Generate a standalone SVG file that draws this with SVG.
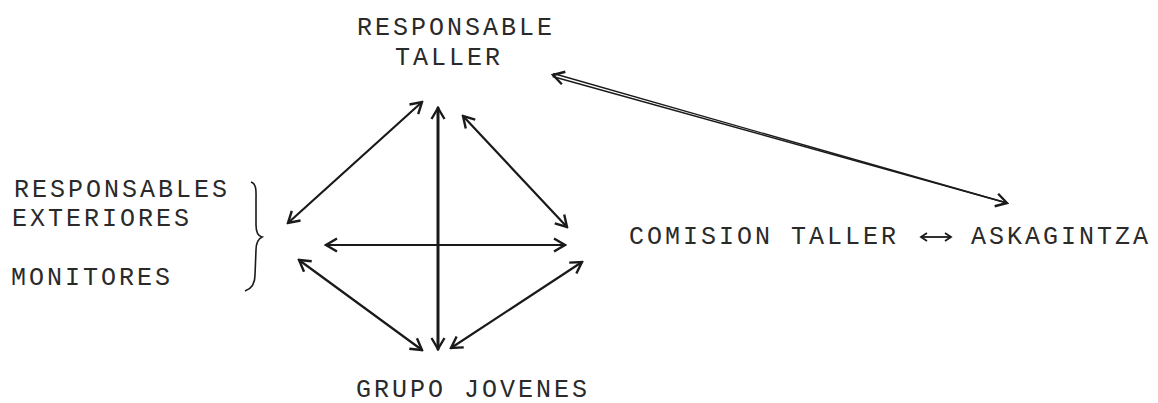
<svg xmlns="http://www.w3.org/2000/svg" width="1158" height="403" viewBox="0 0 1158 403">
  <style>
    .t { font-family: "Liberation Mono", "Courier New", monospace; font-size: 25px; letter-spacing: 3px; fill: #2a2a2a; }
    .c { stroke: #1a1a1a; stroke-width: 2.2; fill: none; stroke-linecap: round; }
    .thick { stroke-width: 3; }
  </style>
  <defs>
    <marker id="ah" viewBox="-13 -8 15 16" markerWidth="15" markerHeight="16" refX="0" refY="0" markerUnits="userSpaceOnUse" orient="auto-start-reverse">
      <path d="M-11,-6.5 L0,0 L-11,6.5" fill="none" stroke="#1a1a1a" stroke-width="2.4" stroke-linejoin="miter"/>
    </marker>
    <marker id="ahs" viewBox="-8 -5 10 10" markerWidth="10" markerHeight="10" refX="0" refY="0" markerUnits="userSpaceOnUse" orient="auto-start-reverse">
      <path d="M-6,-4 L0,0 L-6,4" fill="none" stroke="#1a1a1a" stroke-width="1.8"/>
    </marker>
  </defs>
  <rect width="1158" height="403" fill="#ffffff"/>

  <g id="responsable-taller">
    <text class="t" x="357" y="35">RESPONSABLE</text>
    <text class="t" x="395" y="65">TALLER</text>
  </g>

  <g id="exteriores-monitores">
    <text class="t" x="14" y="197">RESPONSABLES</text>
    <text class="t" x="12" y="226">EXTERIORES</text>
    <text class="t" x="11" y="285">MONITORES</text>
    <path d="M251,182 C257,184 256,192 256,200 L256,225 C256,232 258,236 262,237 C258,239 256,243 256,250 L255,275 C255,284 251,289 245,291" fill="none" stroke="#1a1a1a" stroke-width="1.6"/>
  </g>

  <g id="grupo-jovenes">
    <text class="t" x="356" y="397">GRUPO JOVENES</text>
  </g>

  <g id="comision-taller">
    <text class="t" x="629" y="244">COMISION TALLER</text>
  </g>

  <g id="askagintza">
    <text class="t" x="971" y="244">ASKAGINTZA</text>
  </g>

  <g id="connectors">
    <line class="c" x1="422" y1="102" x2="288" y2="223" marker-start="url(#ah)" marker-end="url(#ah)"/>
    <line class="c thick" x1="438" y1="108" x2="438" y2="349" marker-start="url(#ah)" marker-end="url(#ah)"/>
    <line class="c" x1="463" y1="116" x2="567" y2="227" marker-start="url(#ah)" marker-end="url(#ah)"/>
    <line class="c" x1="326" y1="245" x2="565" y2="245" marker-start="url(#ah)" marker-end="url(#ah)"/>
    <line class="c" x1="299" y1="260" x2="422" y2="350" marker-start="url(#ah)" marker-end="url(#ah)"/>
    <line class="c" x1="582" y1="262" x2="451" y2="348" marker-start="url(#ah)" marker-end="url(#ah)"/>
    <line x1="553" y1="75" x2="1007" y2="203" stroke="none" marker-start="url(#ah)" marker-end="url(#ah)"/>
    <line x1="552.6" y1="76.5" x2="1007" y2="203" stroke="#1a1a1a" stroke-width="1.4"/>
    <line x1="553.4" y1="73.5" x2="1007" y2="203" stroke="#1a1a1a" stroke-width="1.4"/>
    <line x1="921" y1="237" x2="951" y2="237" stroke="#1a1a1a" stroke-width="1.8" marker-start="url(#ahs)" marker-end="url(#ahs)"/>
  </g>
</svg>
